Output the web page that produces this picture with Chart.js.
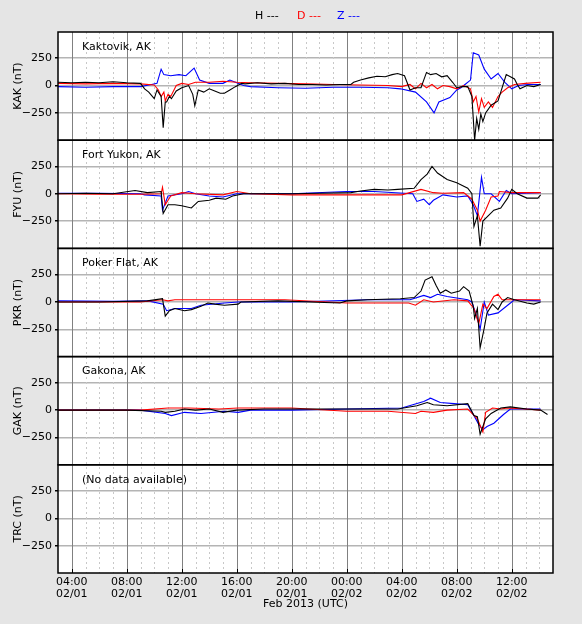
<!DOCTYPE html>
<html><head><meta charset="utf-8">
<script src="https://cdn.jsdelivr.net/npm/chart.js@4.4.1/dist/chart.umd.min.js"></script>
<style>html,body{margin:0;padding:0;background:#e5e5e5;}canvas{display:block;}</style>
</head><body>
<canvas id="c" width="582" height="624"></canvas>
<script>
// hours since 2013-02-01 00:00 UTC, value nT
const stations = ["KAK","FYU","PKR","GAK","TRC"];
const stationNames = ["Kaktovik, AK","Fort Yukon, AK","Poker Flat, AK","Gakona, AK","(No data available)"];
const tickHours = [4,8,12,16,20,24,28,32,36];

const kakH = [[3,30],[4,25],[5,30],[6,25],[7,35],[8,25],[9,20],[9.3,-30],[9.6,-60],[10,-120],[10.2,-40],[10.5,-100],[10.65,-385],[10.8,-150],[10.9,-150],[11.1,-100],[11.25,-120],[11.6,-50],[12,-20],[12.5,0],[12.8,-80],[12.95,-185],[13.2,-40],[13.6,-60],[14,-30],[14.4,-50],[14.8,-70],[15.1,-70],[15.5,-40],[15.9,-10],[16.35,20],[16.6,15],[17.5,25],[18.5,15],[19.5,20],[20.5,10],[21.5,10],[22.5,5],[23.5,10],[24.3,10],[24.5,30],[25,50],[25.6,70],[26.2,85],[26.8,80],[27.3,100],[27.7,110],[28.2,90],[28.6,-40],[29,-20],[29.4,-20],[29.8,120],[30.1,100],[30.5,110],[30.9,80],[31.3,90],[31.7,30],[32,-20],[32.4,-10],[32.8,-10],[33.1,-100],[33.3,-500],[33.45,-300],[33.6,-400],[33.75,-260],[33.9,-330],[34.1,-250],[34.5,-180],[35,-140],[35.2,-60],[35.6,100],[35.9,80],[36.2,60],[36.4,10],[36.6,-30],[37.1,0],[37.6,-10],[38.1,10]];
const kakD = [[3,20],[5,15],[7,20],[9,15],[10,5],[10.3,-40],[10.5,-100],[10.7,-60],[10.8,-140],[11,-80],[11.2,-100],[11.6,0],[12,20],[12.5,10],[13,30],[14,30],[15,40],[16,30],[17,25],[19,20],[21,15],[23,10],[25,5],[27,0],[28,-10],[28.6,10],[29,-30],[29.4,20],[29.8,-20],[30.2,10],[30.6,-30],[31,0],[31.5,-10],[32,-30],[32.5,0],[33,-30],[33.2,-150],[33.4,-100],[33.6,-240],[33.8,-120],[34,-200],[34.3,-150],[34.6,-200],[35,-100],[35.3,-60],[35.7,-20],[36.2,10],[37,20],[38.1,30]];
const kakZ = [[3,-10],[5,-15],[7,-10],[9,-10],[9.8,10],[10.2,20],[10.5,150],[10.7,100],[11.2,90],[11.8,100],[12.3,90],[12.9,160],[13.3,50],[14,20],[15,20],[15.5,50],[16.5,0],[17,-10],[19,-20],[21,-25],[23,-15],[25,-15],[27,-20],[27.9,-30],[29,-60],[29.8,-150],[30.35,-250],[30.7,-150],[31.5,-110],[32,-40],[32.3,-20],[32.6,10],[33,50],[33.2,300],[33.6,280],[34,150],[34.5,60],[35,110],[35.5,30],[36,-30],[36.5,0],[37.2,10],[38.1,10]];

const fyuH = [[3,0],[5,5],[7,0],[8.6,30],[9.5,10],[10.5,20],[10.65,-180],[11,-100],[11.5,-100],[12,-110],[12.7,-130],[13.2,-70],[14,-60],[14.5,-40],[15.2,-50],[15.7,-20],[16.5,0],[18,0],[20,0],[22,5],[24.3,10],[25,25],[26,40],[27,35],[27.7,40],[28.9,50],[29.4,130],[29.85,180],[30.2,250],[30.6,190],[31.3,130],[32,100],[32.8,50],[33.1,0],[33.25,-300],[33.5,-200],[33.7,-480],[33.9,-250],[34.3,-200],[34.7,-150],[35.2,-130],[35.7,-40],[36,40],[36.4,0],[37.1,-40],[37.9,-40],[38.1,-10]];
const fyuD = [[3,0],[6,-5],[9,-5],[10.5,0],[10.6,60],[10.8,-100],[11.2,-20],[12,10],[13,0],[15,-10],[16,20],[17,0],[20,-10],[24,-10],[28,-10],[29.4,40],[30.3,10],[31,5],[32.5,10],[33.1,-50],[33.5,-150],[33.7,-250],[34.1,-150],[34.5,-30],[35,-20],[35.1,20],[36,10],[38.1,10]];
const fyuZ = [[3,5],[6,5],[9,0],[9.3,-10],[10.5,-20],[10.6,-150],[11,-20],[12,0],[12.5,20],[13,0],[14,-20],[15,-30],[16,0],[20,0],[24,20],[26,20],[28.8,0],[29.1,-70],[29.6,-50],[30,-100],[30.3,-60],[31,-10],[32,-30],[32.8,-20],[33.2,-100],[33.5,-200],[33.8,150],[34,0],[34.5,0],[35.1,-70],[35.6,30],[36,0],[38.1,10]];

const pkrH = [[3,0],[6,0],[9.5,10],[10.6,30],[10.8,-130],[11.1,-80],[11.5,-60],[12.2,-80],[12.7,-70],[13.4,-40],[13.9,-10],[14.4,-20],[15.1,-30],[16.1,-20],[16.3,0],[19,10],[23.5,-10],[24,10],[25.5,20],[27.9,30],[28.9,40],[29.4,100],[29.7,200],[30.2,230],[30.5,150],[30.8,80],[31.2,110],[31.6,80],[32.2,100],[32.5,140],[32.9,100],[33.2,-40],[33.3,-150],[33.5,-60],[33.7,-420],[33.98,-250],[34.2,-100],[34.6,-20],[35,-70],[35.3,0],[35.7,40],[36.2,20],[37.1,-10],[37.6,-20],[38.1,0]];
const pkrD = [[3,0],[9,0],[10.6,20],[11,10],[11.5,20],[12.7,20],[14.7,20],[16.2,20],[19.5,20],[24,-10],[28.5,-10],[29,-30],[29.6,20],[30.3,0],[31.8,20],[32.8,10],[33.25,-60],[33.6,-200],[33.9,-20],[34.2,-60],[34.7,50],[35,70],[35.3,20],[36.2,20],[38.1,20]];
const pkrZ = [[3,10],[7,5],[9.55,10],[10.65,-20],[10.9,-80],[11.5,-60],[12.7,-60],[13.4,-30],[15.1,-10],[16.1,0],[20,0],[25.5,20],[28.6,20],[29.6,60],[30.1,40],[30.6,70],[31.3,50],[32.8,20],[33.1,0],[33.5,-150],[33.7,-250],[34,0],[34.3,-120],[35,-100],[35.7,-30],[36.2,20],[38.1,10]];

const gakH = [[3,0],[8,0],[10.5,-10],[10.8,-20],[11.5,-10],[12.2,10],[13,0],[14,10],[15,-20],[16,0],[18,10],[20,10],[24,10],[27.7,10],[29.1,40],[29.85,70],[30.3,50],[31.3,40],[32.8,60],[33.25,-50],[33.5,-60],[33.7,-220],[34.1,-80],[34.5,-30],[35.2,20],[35.9,30],[37.1,10],[38.1,0],[38.6,-40]];
const gakD = [[3,0],[9,0],[11,20],[12.5,20],[14.7,10],[16.1,20],[18,20],[20,20],[24,-10],[27,-10],[29,-30],[29.4,-10],[30.3,-20],[31.3,0],[32.8,10],[33.2,-40],[33.5,-80],[33.9,-200],[34.1,-20],[34.6,20],[35.2,10],[35.7,20],[37,10],[38.1,0]];
const gakZ = [[3,0],[9,0],[10.8,-30],[11.25,-50],[12.2,-20],[13.4,-30],[15.1,-10],[16.1,-20],[17,0],[20,0],[24,10],[28,20],[29.6,80],[30.1,110],[30.8,70],[31.8,60],[32.8,50],[33.25,-50],[33.6,-130],[33.9,-180],[34.2,-150],[34.7,-120],[35.4,-40],[35.9,10],[38.1,10]];

const seriesH = [kakH,fyuH,pkrH,gakH,[]];
const seriesD = [kakD,fyuD,pkrD,gakD,[]];
const seriesZ = [kakZ,fyuZ,pkrZ,gakZ,[]];

const FONT = "'DejaVu Sans', sans-serif";
const toXY = a => a.map(p => ({x:p[0], y:p[1]}));
const datasets = [];
const scales = {
  x: {type:'linear', min:3, max:39, position:'bottom',
      afterBuildTicks: s => { s.ticks = tickHours.map(v=>({value:v})); },
      afterFit: s => { s.height = 51; },
      grid:{display:false, drawTicks:false},
      border:{display:false},
      ticks:{color:'#000', font:{family:FONT,size:11,lineHeight:1.1}, padding:3, maxRotation:0,
        callback: v => { const hh = v%24; const d = v<24?'02/01':'02/02';
          return [String(hh).padStart(2,'0')+':00', d]; }},
      title:{display:true, text:'Feb 2013 (UTC)', color:'#000', font:{family:FONT,size:11}, padding:{top:0,bottom:13}}
  }
};
const order = stations.map((s,i)=>i).reverse();
order.forEach(i => {
  const id = 'y'+i;
  scales[id] = {type:'linear', min:-500, max:490, position:'left', stack:'panels', stackWeight:1,
    afterBuildTicks: s => { s.ticks = [-250,0,250].map(v=>({value:v})); },
    afterFit: s => { s.width = 58; },
    grid:{color:'#b4b4b4', lineWidth:1.5, drawTicks:true, tickLength:3, tickColor:'#000'},
    border:{display:false},
    ticks:{color:'#000', font:{family:FONT,size:11}, padding:3, callback: v => v<0 ? '\u2212'+Math.abs(v) : String(v)},
    title:{display:true, text:stations[i]+' (nT)', color:'#000', font:{family:FONT,size:11}, padding:{top:12,bottom:2}}
  };
});
stations.forEach((s,i) => {
  [[seriesH,'#000000'],[seriesD,'#ff0000'],[seriesZ,'#0000ff']].forEach(([arr,col]) => {
    datasets.push({data:toXY(arr[i]), yAxisID:'y'+i, borderColor:col, borderWidth:1.1,
      pointRadius:0, tension:0, fill:false});
  });
});

const deco = {
  id:'deco',
  beforeDraw(chart){
    const {ctx, chartArea:a} = chart;
    ctx.save(); ctx.fillStyle='#fff'; ctx.fillRect(a.left,a.top,a.right-a.left,a.bottom-a.top); ctx.restore();
  },
  beforeDatasetsDraw(chart){
    const {ctx, chartArea:a, scales:sc} = chart;
    const x = sc.x;
    ctx.save();
    ctx.strokeStyle='#c8c8c8'; ctx.lineWidth=1; ctx.setLineDash([2,3]);
    for(let h=4; h<39; h++){ if(h%4===0) continue; const px=Math.round(x.getPixelForValue(h))+0.5;
      ctx.beginPath(); ctx.moveTo(px,a.top); ctx.lineTo(px,a.bottom); ctx.stroke(); }
    ctx.setLineDash([]); ctx.strokeStyle='#808080';
    tickHours.forEach(h => { const px=Math.round(x.getPixelForValue(h))+0.5;
      ctx.beginPath(); ctx.moveTo(px,a.top); ctx.lineTo(px,a.bottom); ctx.stroke(); });
    ctx.restore();
  },
  afterDatasetsDraw(chart){
    const {ctx, chartArea:a, scales:sc} = chart;
    ctx.save();
    ctx.strokeStyle='#000'; ctx.lineWidth=1.5;
    stations.forEach((s,i) => { const y=sc['y'+i];
      ctx.strokeRect(a.left, y.top, a.right-a.left, y.bottom-y.top);
      ctx.fillStyle='#000'; ctx.font='11px '+FONT; ctx.textBaseline='middle'; ctx.textAlign='left';
      ctx.fillText(stationNames[i], a.left+24, y.top+15);
    });
    ctx.lineWidth=1;
    tickHours.forEach(h => { const px=Math.round(sc.x.getPixelForValue(h))+0.5;
      ctx.beginPath(); ctx.moveTo(px,a.bottom); ctx.lineTo(px,a.bottom-4); ctx.stroke(); });
    ctx.font='11px '+FONT; ctx.textBaseline='middle'; ctx.textAlign='left';
    [['H ---','#000',255],['D ---','#ff0000',297],['Z ---','#0000ff',337]].forEach(([t,c,px]) => {
      ctx.fillStyle=c; ctx.fillText(t,px,16); });
    ctx.restore();
  }
};

new Chart(document.getElementById('c'), {
  type:'line',
  data:{datasets},
  options:{responsive:false, animation:false, parsing:false,
    layout:{padding:{top:32,right:29,left:0,bottom:0}},
    plugins:{legend:{display:false}, tooltip:{enabled:false}},
    scales},
  plugins:[deco]
});
</script>
</body></html>
